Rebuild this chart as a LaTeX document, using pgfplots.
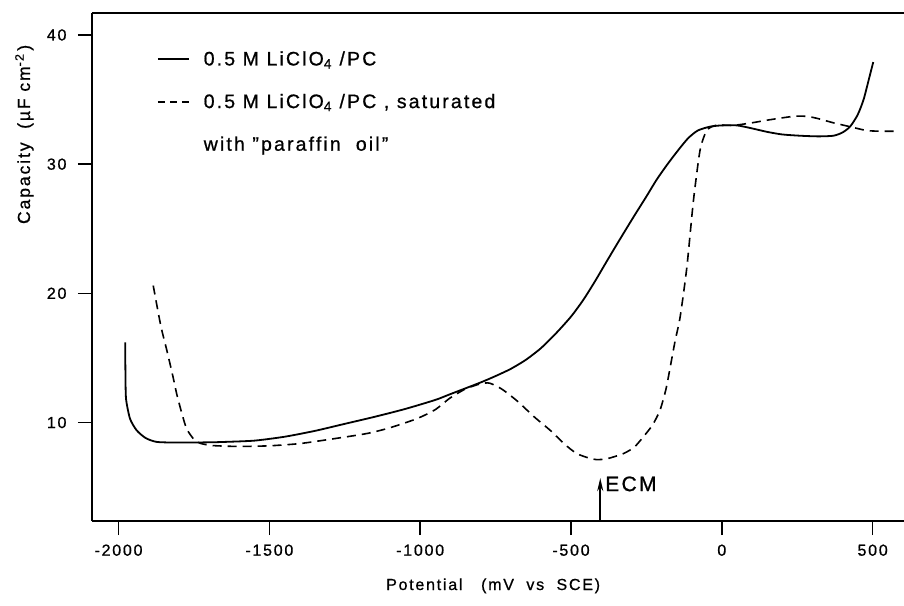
\documentclass[border=0pt]{standalone}
\usepackage{fontspec}
\setmainfont{Liberation Sans}[LetterSpace=11, FakeBold=0.8]
\usepackage{pgfplots}
\pgfplotsset{compat=1.18}
\usetikzlibrary{arrows.meta}
\pgfplotstableread{
x y
-1978 16.2
-1977 13.5
-1975 11.8
-1962 10.3
-1940 9.4
-1910 8.8
-1873 8.5
-1800 8.45
-1700 8.47
-1650 8.5
-1550 8.6
-1450 8.9
-1350 9.35
-1250 9.9
-1150 10.45
-1050 11.05
-950 11.75
-900 12.2
-800 13.1
-750 13.6
-700 14.15
-650 14.85
-600 15.75
-550 16.9
-500 18.2
-459 19.5
-420 20.95
-381 22.5
-340 24.1
-293 25.9
-250 27.5
-216 28.8
-180 30.0
-144 31.1
-112 32.0
-80 32.6
-40 32.9
0 33.0
50 33.0
94 32.8
150 32.5
200 32.3
260 32.2
320 32.15
370 32.2
400 32.45
425 32.9
450 33.8
470 35.0
490 36.8
502 37.9
}\solid
\pgfplotstableread{
x y
-1885 20.6
-1860 17.5
-1840 15.6
-1820 13.6
-1807 12.2
-1790 10.7
-1774 9.5
-1750 8.7
-1730 8.4
-1700 8.25
-1674 8.2
-1600 8.15
-1500 8.2
-1400 8.37
-1300 8.7
-1177 9.15
-1100 9.6
-1011 10.3
-950 11.0
-901 11.9
-850 12.6
-800 13.0
-770 13.05
-730 12.6
-680 11.7
-620 10.4
-569 9.4
-520 8.3
-481 7.6
-440 7.25
-415 7.13
-380 7.2
-326 7.6
-290 8.1
-260 8.9
-230 9.8
-205 10.95
-185 12.6
-171 14.3
-155 16.3
-138 18.2
-116 22.0
-94 27.2
-72 31.1
-50 32.6
-20 33.0
38 33.0
100 33.2
149 33.4
237 33.7
280 33.7
315 33.55
370 33.2
425 32.9
481 32.6
530 32.55
580 32.55
}\dashed
\begin{document}
\begin{tikzpicture}
\begin{axis}[
  name=ax,
  scale only axis,
  width=812pt, height=508pt,
  xmin=-2088, xmax=604,
  ymin=2.38, ymax=41.7,
  axis x line=box,
  axis y line=left,
  axis line style={line width=1.8pt, -},
  xtick={-2000,-1500,-1000,-500,0,500},
  ytick={10,20,30,40},
  xtick pos=bottom,
  tick align=outside,
  major tick length=14pt,
  every tick/.style={line width=1.6pt, black},
  /pgf/number format/assume math mode=true,
  /pgf/number format/1000 sep={},
  ticklabel style={font=\fontsize{16}{19}\selectfont},
  xticklabel style={yshift=-6pt},
  yticklabel style={xshift=-8pt},
  every axis x label/.style={at={(rel axis cs:0.494,0)}, yshift=-69pt, anchor=base},
  every axis y label/.style={at={(rel axis cs:0,0.761)}, xshift=-62pt, rotate=90, anchor=base},
  xlabel style={font=\fontsize{16}{19}\selectfont},
  ylabel style={font=\fontsize{17.5}{20}\selectfont},
  xlabel={Potential\ \ \ (mV\ \ vs\ \ SCE)},
  ylabel={Capacity\ \ (µF\ cm\textsuperscript{-2}\,)},
  legend style={draw=none, fill=none, at={(rel axis cs:0.08,0.925)}, anchor=north west,
    font=\fontsize{19.5}{23}\selectfont, row sep=27pt, inner sep=0pt,
    nodes={inner xsep=14pt, inner ysep=0pt}},
  legend cell align=left,
  legend image code/.code={\draw[#1] (0pt,0pt) -- (31pt,0pt);},
]
\addplot[black, line width=1.8pt, smooth, tension=0.4, forget plot] table[x=x,y=y] {\solid};
\addplot[black, line width=1.6pt, dash pattern=on 9pt off 6pt, smooth, tension=0.4, forget plot] table[x=x,y=y] {\dashed};
\addlegendimage{black, line width=1.6pt}
\addlegendentry{0.5 M LiClO\textsubscript{4} /PC}
\addlegendimage{black, line width=1.6pt, dash pattern=on 7pt off 5pt}
\addlegendentry{0.5 M LiClO\textsubscript{4} /PC , saturated}
\addlegendimage{empty legend}
\addlegendentry{with "paraffin\ \ oil"}
\draw[line width=1.8pt, -{Stealth[length=13pt, width=6pt]}] (axis cs:-403,2.38) -- (axis cs:-403,5.7);
\node[anchor=west, font=\fontsize{21}{24}\selectfont, inner sep=0pt] at (axis cs:-387,5.25) {ECM};
\end{axis}
\pgfresetboundingbox
\path[use as bounding box] ([shift={(-92pt,-84pt)}]ax.south west) rectangle ([shift={(0pt,13pt)}]ax.north east);
\end{tikzpicture}
\end{document}
